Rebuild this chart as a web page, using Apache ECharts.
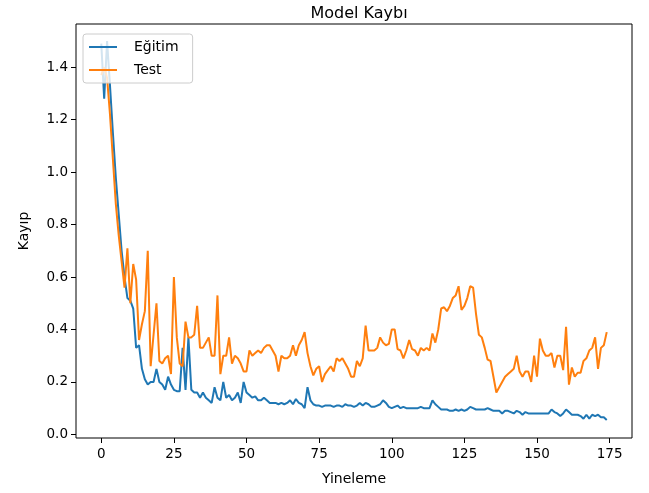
<!DOCTYPE html>
<html>
<head>
<meta charset="utf-8">
<title>Model Kaybı</title>
<script src="https://cdn.jsdelivr.net/npm/echarts@6/dist/echarts.min.js"></script>
<style>
  html, body { margin: 0; padding: 0; background: #fff; }
  #chart { width: 649px; height: 493px; }
</style>
</head>
<body>
<div id="chart"></div>
<script>
// loss per iteration
const trainLoss = [
  1.49, 1.28, 1.50, 1.33, 1.15, 0.98, 0.84, 0.70, 0.60, 0.52,
  0.51, 0.48, 0.33, 0.34, 0.25, 0.21, 0.19, 0.20, 0.20, 0.25,
  0.20, 0.19, 0.17, 0.22, 0.19, 0.17, 0.165, 0.165, 0.33, 0.17,
  0.37, 0.17, 0.16, 0.16, 0.14, 0.16, 0.14, 0.13, 0.12, 0.18,
  0.14, 0.13, 0.20, 0.14, 0.15, 0.13, 0.14, 0.16, 0.12, 0.20,
  0.16, 0.15, 0.14, 0.145, 0.13, 0.13, 0.14, 0.13, 0.12, 0.12,
  0.12, 0.115, 0.12, 0.115, 0.12, 0.13, 0.115, 0.135, 0.12, 0.115,
  0.10, 0.18, 0.13, 0.115, 0.11, 0.11, 0.105, 0.11, 0.11, 0.11,
  0.105, 0.11, 0.11, 0.105, 0.115, 0.11, 0.11, 0.105, 0.11, 0.12,
  0.11, 0.12, 0.115, 0.105, 0.105, 0.11, 0.115, 0.13, 0.12, 0.105,
  0.10, 0.105, 0.11, 0.10, 0.105, 0.10, 0.10, 0.10, 0.10, 0.10,
  0.105, 0.10, 0.10, 0.10, 0.13, 0.115, 0.105, 0.095, 0.095, 0.095,
  0.09, 0.09, 0.095, 0.09, 0.095, 0.09, 0.095, 0.105, 0.10, 0.095,
  0.095, 0.095, 0.095, 0.10, 0.095, 0.09, 0.09, 0.09, 0.08, 0.09,
  0.09, 0.085, 0.08, 0.09, 0.085, 0.075, 0.085, 0.08, 0.08, 0.08,
  0.08, 0.08, 0.08, 0.08, 0.08, 0.095, 0.085, 0.08, 0.07, 0.08,
  0.095, 0.085, 0.075, 0.075, 0.075, 0.07, 0.06, 0.075, 0.06, 0.075,
  0.07, 0.075, 0.065, 0.065, 0.055
]

const testLoss = [
  1.37, 1.40, 1.36, 1.22, 1.05, 0.88, 0.76, 0.66, 0.56, 0.71,
  0.50, 0.65, 0.59, 0.36, 0.42, 0.47, 0.70, 0.26, 0.38, 0.50,
  0.28, 0.27, 0.29, 0.30, 0.23, 0.60, 0.37, 0.27, 0.26, 0.43,
  0.37, 0.37, 0.38, 0.49, 0.33, 0.33, 0.35, 0.37, 0.30, 0.30,
  0.53, 0.23, 0.30, 0.30, 0.37, 0.27, 0.30, 0.29, 0.27, 0.24,
  0.24, 0.32, 0.30, 0.31, 0.32, 0.31, 0.33, 0.34, 0.34, 0.32,
  0.30, 0.24, 0.30, 0.29, 0.29, 0.30, 0.34, 0.30, 0.34, 0.36,
  0.39, 0.31, 0.26, 0.225, 0.25, 0.26, 0.20, 0.23, 0.245, 0.26,
  0.24, 0.29, 0.28, 0.29, 0.27, 0.25, 0.22, 0.22, 0.28, 0.26,
  0.29, 0.415, 0.32, 0.32, 0.32, 0.33, 0.37, 0.35, 0.34, 0.345,
  0.40, 0.40, 0.325, 0.32, 0.29, 0.32, 0.36, 0.325, 0.32, 0.30,
  0.33, 0.32, 0.33, 0.32, 0.385, 0.35, 0.40, 0.48, 0.485, 0.47,
  0.49, 0.52, 0.53, 0.565, 0.475, 0.49, 0.52, 0.565, 0.56, 0.46,
  0.38, 0.37, 0.33, 0.285, 0.28, 0.22, 0.16, 0.18, 0.20, 0.22,
  0.23, 0.24, 0.25, 0.30, 0.24, 0.22, 0.24, 0.24, 0.20, 0.30,
  0.22, 0.365, 0.32, 0.30, 0.30, 0.31, 0.255, 0.30, 0.30, 0.245,
  0.41, 0.19, 0.255, 0.22, 0.235, 0.235, 0.28, 0.29, 0.32, 0.33,
  0.37, 0.25, 0.33, 0.34, 0.39
]

const xTicks = [0, 25, 50, 75, 100, 125, 150, 175]
const yTicks = [0, 0.2, 0.4, 0.6, 0.8, 1.0, 1.2, 1.4]

const seriesNames = ['Eğitim', 'Test']
const colors = ['#1f77b4', '#ff7f0e']

const font = 'DejaVu Sans'

const toPoints = (arr) => arr.map((v, i) => [i, v])

const chart = echarts.init(document.getElementById('chart'), null, {renderer: 'canvas'})

const option = {
  animation: false,
  backgroundColor: '#fff',
  title: {
    text: 'Model Kaybı',
    left: 354,
    top: 1,
    textAlign: 'center',
    textStyle: {fontFamily: font, fontSize: 16, fontWeight: 'normal', color: '#000'}
  },
  grid: {
    left: 76,
    right: 17,
    top: 24,
    bottom: 55,
    show: true,
    borderColor: '#000',
    borderWidth: 1,
    backgroundColor: 'transparent'
  },
  legend: {
    data: seriesNames,
    orient: 'vertical',
    left: 83,
    top: 34,
    icon: 'rect',
    itemWidth: 28,
    itemHeight: 2,
    itemGap: 9,
    padding: [6, 14, 6, 6],
    backgroundColor: 'rgba(255,255,255,0.8)',
    borderColor: '#cccccc',
    borderWidth: 1,
    borderRadius: 3,
    textStyle: {fontFamily: font, fontSize: 14, color: '#000', lineHeight: 14, padding: [0, 0, 0, 12]},
    z: 10
  },
  xAxis: {
    type: 'value',
    min: -8.7,
    max: 182.7,
    name: 'Yineleme',
    nameLocation: 'middle',
    nameGap: 34,
    nameTextStyle: {fontFamily: font, fontSize: 14, color: '#000'},
    axisLine: {show: false, onZero: false},
    splitLine: {show: false},
    axisTick: {show: true, customValues: xTicks, length: 5, lineStyle: {color: '#000'}},
    axisLabel: {
      customValues: xTicks,
      fontFamily: font,
      fontSize: 13.5,
      color: '#000',
      margin: 9
    }
  },
  yAxis: {
    type: 'value',
    min: -0.0137,
    max: 1.565,
    name: 'Kayıp',
    nameLocation: 'middle',
    nameGap: 45,
    nameRotate: 90,
    nameTextStyle: {fontFamily: font, fontSize: 14, color: '#000'},
    axisLine: {show: false, onZero: false},
    splitLine: {show: false},
    axisTick: {show: true, customValues: yTicks, length: 5, lineStyle: {color: '#000'}},
    axisLabel: {
      customValues: yTicks,
      fontFamily: font,
      fontSize: 13.5,
      color: '#000',
      margin: 8,
      formatter: (v) => v.toFixed(1)
    }
  },
  series: [
    {
      name: seriesNames[0],
      type: 'line',
      data: toPoints(trainLoss),
      symbol: 'none',
      color: colors[0],
      lineStyle: {width: 2, color: colors[0]}
    },
    {
      name: seriesNames[1],
      type: 'line',
      data: toPoints(testLoss),
      symbol: 'none',
      color: colors[1],
      lineStyle: {width: 2, color: colors[1]}
    }
  ]
}

chart.setOption(option)
</script>
</body>
</html>
